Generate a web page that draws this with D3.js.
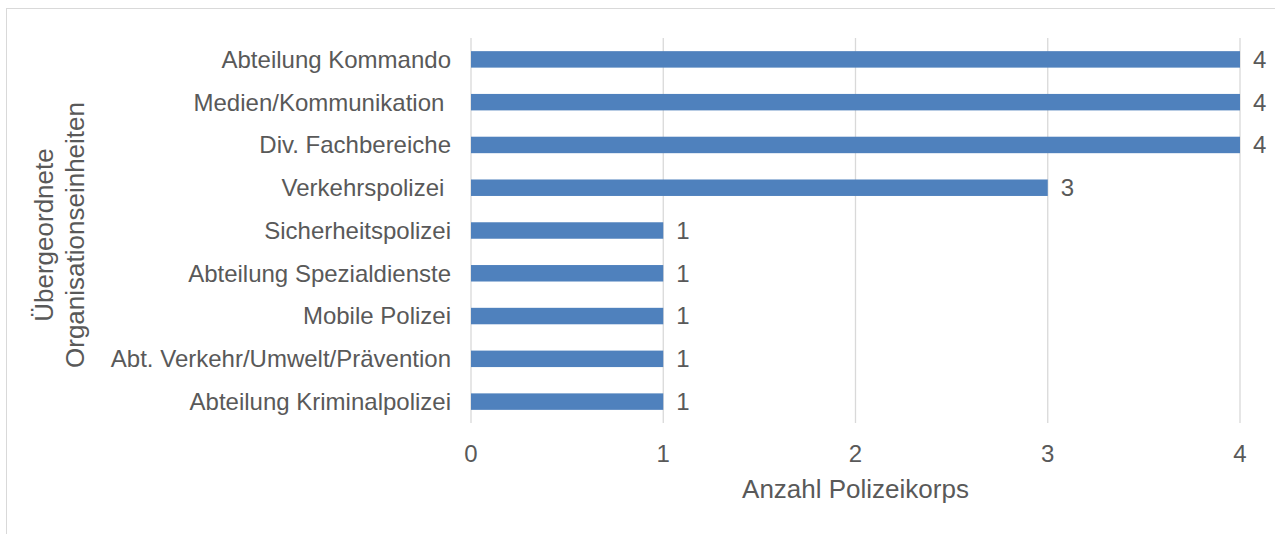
<!DOCTYPE html>
<html>
<head>
<meta charset="utf-8">
<script src="https://cdn.jsdelivr.net/npm/d3@7"></script>
<style>
  body { margin: 0; background: #fff; }
  text { font-family: "Liberation Sans", Arial, sans-serif; fill: #595959; white-space: pre; }
</style>
</head>
<body>
<div id="chart"></div>
<script>
const categories = ['Abteilung Kommando', 'Medien/Kommunikation ', 'Div. Fachbereiche', 'Verkehrspolizei ',
  'Sicherheitspolizei', 'Abteilung Spezialdienste', 'Mobile Polizei', 'Abt. Verkehr/Umwelt/Prävention',
  'Abteilung Kriminalpolizei']
const values = [4, 4, 4, 3, 1, 1, 1, 1, 1]
const xTicks = [0, 1, 2, 3, 4]
const xTitle = 'Anzahl Polizeikorps'
const yTitle = ['Übergeordnete', 'Organisationseinheiten']

const width = 1275, height = 534
const margin = {top: 38, right: 35, bottom: 111, left: 471}

const svg = d3.select('#chart').append('svg')
  .attr('width', width)
  .attr('height', height)

// outer frame
svg.append('rect')
  .attr('x', 6.5).attr('y', 8.5)
  .attr('width', width + 10).attr('height', height + 10)
  .attr('fill', 'none')
  .attr('stroke', '#d9d9d9')

const x = d3.scaleLinear().domain([0, 4]).range([margin.left, width - margin.right])
const y = d3.scaleBand().domain(categories).range([margin.top, height - margin.bottom])
  .paddingInner(0.615).paddingOuter(0.3075)

const g = svg.append('g')

// gridlines
g.selectAll('.grid')
  .data(xTicks)
  .enter().append('line')
  .attr('x1', d => x(d)).attr('x2', d => x(d))
  .attr('y1', margin.top).attr('y2', height - margin.bottom)
  .attr('stroke', '#d9d9d9')
  .attr('stroke-width', 1.3)

// bars
g.selectAll('.bar')
  .data(categories)
  .enter().append('rect')
  .attr('x', x(0))
  .attr('y', d => y(d))
  .attr('width', (d, i) => x(values[i]) - x(0))
  .attr('height', y.bandwidth())
  .attr('fill', '#4f81bd')

// value labels
g.selectAll('.val')
  .data(categories)
  .enter().append('text')
  .attr('x', (d, i) => x(values[i]) + 13)
  .attr('y', d => y(d) + y.bandwidth() / 2)
  .attr('dy', '0.35em')
  .style('font-size', '24px')
  .text((d, i) => values[i])

// category labels
g.selectAll('.cat')
  .data(categories)
  .enter().append('text')
  .attr('x', x(0) - 20)
  .attr('y', d => y(d) + y.bandwidth() / 2)
  .attr('dy', '0.35em')
  .style('text-anchor', 'end')
  .style('font-size', '24px')
  .text(d => d)

// tick labels
g.selectAll('.tick')
  .data(xTicks)
  .enter().append('text')
  .attr('x', d => x(d))
  .attr('y', 462)
  .style('text-anchor', 'middle')
  .style('font-size', '24px')
  .text(d => d)

// x title
svg.append('text')
  .attr('x', (x(0) + x(4)) / 2)
  .attr('y', 498)
  .style('text-anchor', 'middle')
  .style('font-size', '26px')
  .text(xTitle)

// y title
svg.append('text')
  .attr('transform', 'translate(53, 235) rotate(-90)')
  .style('text-anchor', 'middle')
  .style('font-size', '26px')
  .selectAll('tspan')
  .data(yTitle)
  .enter().append('tspan')
  .attr('x', 0)
  .attr('dy', (d, i) => i === 0 ? 0 : 31)
  .text(d => d)
</script>
</body>
</html>
